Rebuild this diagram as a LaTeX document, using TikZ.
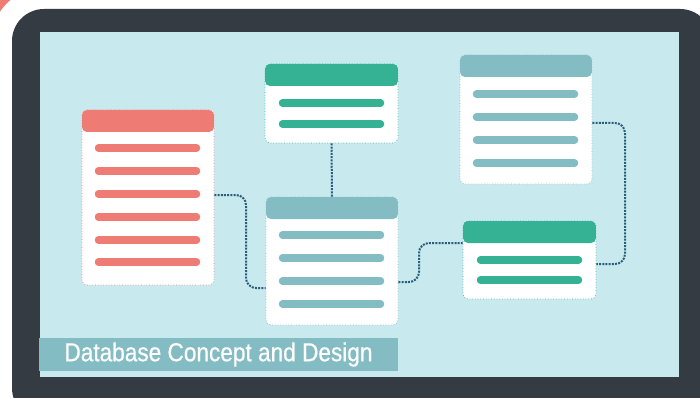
\documentclass[tikz,border=0pt]{standalone}
\usepackage{fontspec}
\newfontfamily\bannerfont[FakeStretch=0.87,FakeBold=0.6]{Liberation Sans}
\definecolor{frame}{HTML}{343B43}
\definecolor{lightbg}{HTML}{C8E9EE}
\definecolor{redc}{HTML}{EF7B75}
\definecolor{greenc}{HTML}{35B194}
\definecolor{tealc}{HTML}{84BCC4}
\definecolor{connc}{HTML}{2B5D7C}
\tikzset{
  tbox/.style={draw=#1, dotted, line width=0.7pt, fill=white, rounded corners=5pt, inner sep=0pt,
    path picture={\fill[#1] (path picture bounding box.north west) rectangle ([yshift=-22pt]path picture bounding box.north east);}},
  bar/.style={line width=7.5pt, line cap=round, draw=#1},
  conn/.style={draw=connc, line width=2pt, dash pattern=on 2pt off 1.2pt, rounded corners=10pt},
  banner/.style={fill=tealc, inner sep=0pt, text=white, font=\bannerfont\fontsize{26}{26}\selectfont}
}
\begin{document}
\begin{tikzpicture}[x=1pt,y=-1pt]
\useasboundingbox (0,0) rectangle (700,398);
\fill[white] (0,0) rectangle (700,398);
% red corner
\fill[redc] (0,0) -- (35,0) -- (0,35) -- cycle;
\fill[white, rounded corners=50pt] (-8,-11) rectangle (730,430);
% frame
\fill[frame, rounded corners=32pt] (12,9) rectangle (712,420);
\fill[lightbg] (40,32) rectangle (679,377);
% boxes
\node[tbox=redc, minimum width=132pt, minimum height=175pt] (red) at (148,197.5) {};
\node[tbox=greenc, minimum width=133pt, minimum height=79pt] (gtop) at (331.5,103.5) {};
\node[tbox=tealc, minimum width=132pt, minimum height=128pt] (mid) at (332,261) {};
\node[tbox=tealc, minimum width=132pt, minimum height=129pt] (ttr) at (526,119.5) {};
\node[tbox=greenc, minimum width=133pt, minimum height=78pt] (gr) at (529.5,260) {};
% bars
\foreach \y in {148,171,194,217,240,262} \draw[bar=redc] (98.5,\y) -- (196.5,\y);
\foreach \y in {103,124} \draw[bar=greenc] (282.5,\y) -- (380.5,\y);
\foreach \y in {235,258,281,304} \draw[bar=tealc] (282.5,\y) -- (380.5,\y);
\foreach \y in {94,117,140,163} \draw[bar=tealc] (476.5,\y) -- (574.5,\y);
\foreach \y in {260,280} \draw[bar=greenc] (480.5,\y) -- (578.5,\y);
% connectors
\draw[conn] ([yshift=2.5pt]red.east) -- (246,195) -- (246,288) -- ([yshift=-27pt]mid.west);
\draw[conn] (gtop.south) -- (mid.north);
\draw[conn] ([yshift=-21pt]mid.east) -- (419,282) -- (419,243) -- ([yshift=17pt]gr.west);
\draw[conn] ([yshift=-3.5pt]ttr.east) -- (625,123) -- (625,264) -- ([yshift=-4pt]gr.east);
% banner
\node[banner, minimum width=359pt, minimum height=33pt] (title) at (218.5,354.5) {Database Concept and Design};
\end{tikzpicture}
\end{document}
